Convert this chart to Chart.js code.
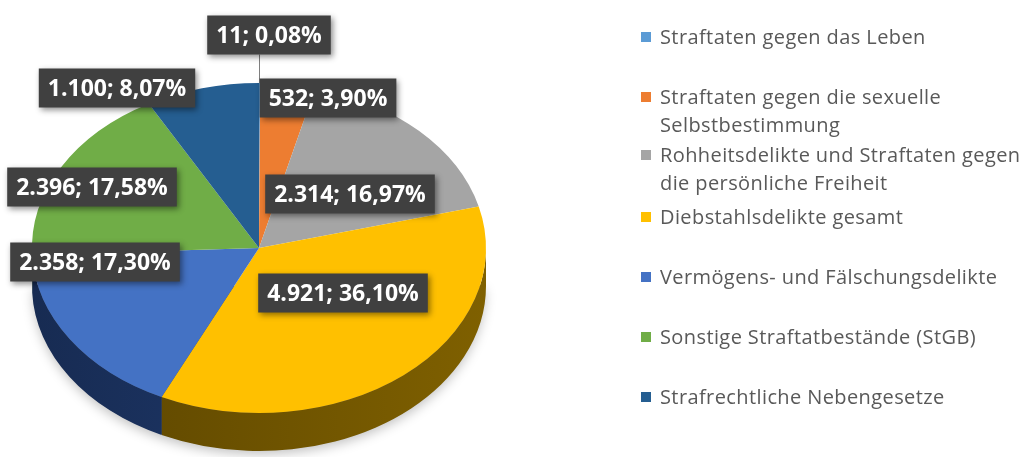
<!DOCTYPE html>
<html>
<head>
<meta charset="utf-8">
<script src="https://cdn.jsdelivr.net/npm/chart.js@4.4.1/dist/chart.umd.min.js"></script>
<style>
    html, body { margin: 0; padding: 0; background: #fff; }
    #wrap { position: relative; width: 1019px; height: 457px; overflow: hidden; }
    #pie { position: absolute; left: 0; top: 0; }
    .item {
        position: absolute;
        left: 641px;
        width: 388px;
        padding-left: 19px;
        box-sizing: border-box;
        font: 20px 'Open Sans', sans-serif;
        letter-spacing: 0.4px;
        line-height: 28px;
        color: #595959;
    }
    .item .sw { position: absolute; left: 0; top: 9px; width: 10px; height: 10px; }
</style>
</head>
<body>
<div id="wrap">
    <canvas id="pie" width="1019" height="457"></canvas>
    <div id="legend"></div>
</div>
<script>
// Data
const categories = [
    'Straftaten gegen das Leben',
    'Straftaten gegen die sexuelle Selbstbestimmung',
    'Rohheitsdelikte und Straftaten gegen die persönliche Freiheit',
    'Diebstahlsdelikte gesamt',
    'Vermögens- und Fälschungsdelikte',
    'Sonstige Straftatbestände (StGB)',
    'Strafrechtliche Nebengesetze'
];
const values = [11, 532, 2314, 4921, 2358, 2396, 1100];

// Styles / layout
const colors = ['#5b9bd5', '#ed7d31', '#a5a5a5', '#ffc000', '#4472c4', '#70ad47', '#255e91'];
const sideColors = ['#2e5f8c', '#8f4514', '#5e5e5e', '#7f6000', '#22407a', '#3f6a24', '#133a5c'];
const sideDark = ['#1f4060', '#5e2d0c', '#404040', '#5a4400', '#172b52', '#2a4718', '#0c263d'];
const legendTops = [23, 83, 141, 203, 263, 323, 383];
const labelCenters = [[269, 35], [328, 98], [350, 194], [343, 293], [95, 262], [92, 187], [117, 88]];
const tilt = { cy: 248, sy: 165 / 227, depth: 38 };

const total = values.reduce((a, b) => a + b, 0);

function fmtNumber(n) {
    return String(n).replace(/\B(?=(\d{3})+(?!\d))/g, '.');
}
function fmtPct(v) {
    return (v / total * 100).toFixed(2).replace('.', ',') + '%';
}

// Tilt the pie and draw the side wall before the top faces
const pie3d = {
    id: 'pie3d',
    beforeDatasetsDraw(chart) {
        const ctx = chart.ctx;
        const meta = chart.getDatasetMeta(0);
        const first = meta.data[0];
        const cx = first.x, cy = first.y, r = first.outerRadius;
        ctx.save();
        ctx.translate(0, tilt.cy);
        ctx.scale(1, tilt.sy);
        ctx.translate(0, -cy);
        const d = tilt.depth / tilt.sy;

        // soft drop shadow under the whole pie
        ctx.save();
        ctx.shadowColor = 'rgba(0,0,0,0.25)';
        ctx.shadowBlur = 12;
        ctx.shadowOffsetY = 4;
        ctx.beginPath();
        ctx.arc(cx, cy + d, r - 1, 0, Math.PI);
        ctx.closePath();
        ctx.fillStyle = '#555';
        ctx.fill();
        ctx.restore();

        meta.data.forEach((arc, i) => {
            const s = Math.max(arc.startAngle, 0);
            const e = Math.min(arc.endAngle, Math.PI);
            if (e <= s) return;
            const grad = ctx.createLinearGradient(cx + r, 0, cx - r, 0);
            grad.addColorStop(0, sideColors[i]);
            grad.addColorStop(1, sideDark[i]);
            ctx.beginPath();
            ctx.arc(cx, cy, r, s, e);
            ctx.arc(cx, cy + d, r, e, s, true);
            ctx.closePath();
            ctx.fillStyle = grad;
            ctx.fill();
        });
    },
    afterDatasetsDraw(chart) {
        chart.ctx.restore();
    }
};

// Data labels in dark boxes
const boxLabels = {
    id: 'boxLabels',
    afterDraw(chart) {
        const ctx = chart.ctx;
        const meta = chart.getDatasetMeta(0);
        ctx.save();
        ctx.font = 'bold 23px "Open Sans", sans-serif';
        ctx.textAlign = 'center';
        ctx.textBaseline = 'middle';
        values.forEach((v, i) => {
            const text = fmtNumber(v) + '; ' + fmtPct(v);
            const [x, y] = labelCenters[i];
            const w = ctx.measureText(text).width + 18;
            const h = 39;
            // leader line for the tiny slice
            if (i === 0) {
                const arc = meta.data[i];
                const mid = (arc.startAngle + arc.endAngle) / 2;
                const px = arc.x + arc.outerRadius * Math.cos(mid);
                const py = tilt.cy + arc.outerRadius * Math.sin(mid) * tilt.sy;
                ctx.strokeStyle = '#7f7f7f';
                ctx.lineWidth = 1;
                ctx.beginPath();
                ctx.moveTo(Math.round(px) - 0.5, y + h / 2);
                ctx.lineTo(Math.round(px) - 0.5, py);
                ctx.stroke();
            }
            ctx.shadowColor = 'rgba(0,0,0,0.45)';
            ctx.shadowBlur = 6;
            ctx.shadowOffsetX = 2;
            ctx.shadowOffsetY = 2;
            ctx.fillStyle = '#404040';
            ctx.fillRect(x - w / 2, y - h / 2, w, h);
            ctx.shadowColor = 'transparent';
            ctx.fillStyle = '#ffffff';
            ctx.fillText(text, x, y + 1);
        });
        ctx.restore();
    }
};

new Chart(document.getElementById('pie'), {
    type: 'pie',
    data: {
        labels: categories,
        datasets: [{
            data: values,
            backgroundColor: colors,
            borderWidth: 0
        }]
    },
    options: {
        responsive: false,
        animation: false,
        layout: { padding: { left: 32, right: 533, top: 0, bottom: 0 } },
        plugins: {
            legend: { display: false },
            tooltip: { enabled: false }
        }
    },
    plugins: [pie3d, boxLabels]
});

// HTML legend
const legend = document.getElementById('legend');
categories.forEach((name, i) => {
    const el = document.createElement('div');
    el.className = 'item';
    el.style.top = legendTops[i] + 'px';
    el.innerHTML = '<span class="sw" style="background:' + colors[i] + '"></span>' + name;
    legend.appendChild(el);
});
</script>
</body>
</html>
